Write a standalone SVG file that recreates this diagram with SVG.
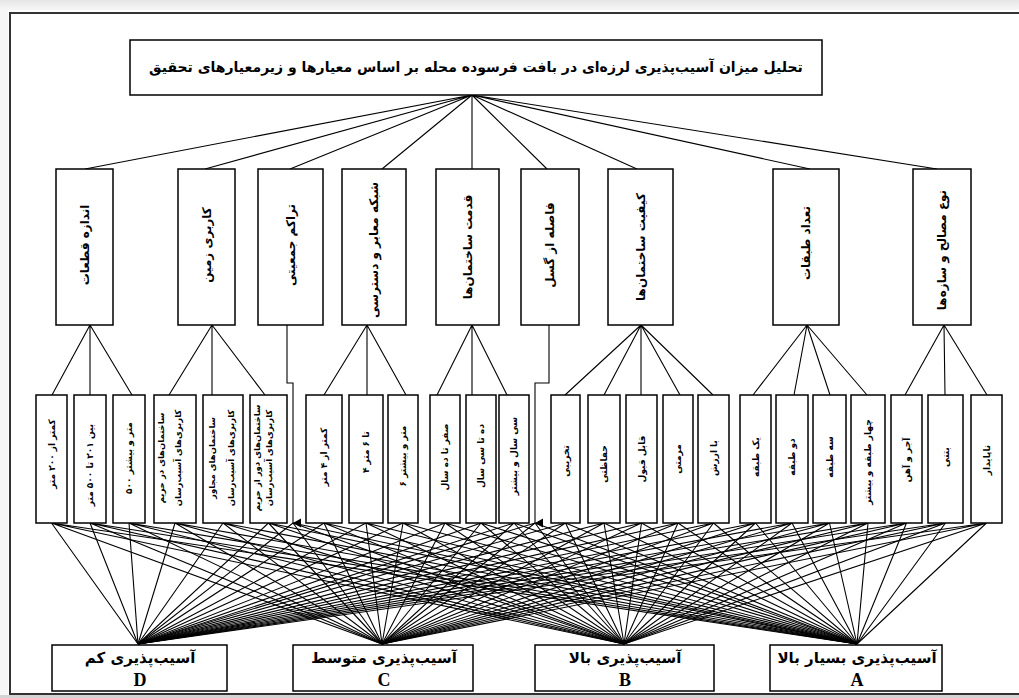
<svg xmlns="http://www.w3.org/2000/svg" width="1019" height="698" viewBox="0 0 1019 698">
<defs>
<style>
.bx{fill:#fff;stroke:#000;stroke-width:1.5}
.ln{stroke:#000;stroke-width:1.1;fill:none}
.t{font-family:"DejaVu Sans",sans-serif;fill:#000;text-anchor:middle;dominant-baseline:central;font-weight:bold}
.tt{font-size:14px}
.tc{font-size:12px}
.ts{font-size:9px}
.tx{font-size:8.5px}
.tb{font-size:15px}
.lt{font-family:"Liberation Serif",serif;font-weight:bold;font-size:18px;fill:#000;text-anchor:middle}
</style>
<marker id="ar" markerUnits="userSpaceOnUse" markerWidth="10" markerHeight="10" refX="5" refY="9" orient="auto-start-reverse" viewBox="0 0 10 10">
<path d="M0.5 1 L9.5 1 L5 9 Z" fill="#000"/>
</marker>
<linearGradient id="sh" x1="0" y1="0" x2="0" y2="1"><stop offset="0" stop-color="#e6e6e6"/><stop offset="1" stop-color="#f7f7f7"/></linearGradient>
</defs>
<rect x="0" y="0" width="1019" height="698" fill="#fff"/>
<rect x="0" y="0" width="1019" height="10" fill="url(#sh)"/>
<rect x="0" y="10" width="8" height="688" fill="#f6f6f6"/>
<rect x="0" y="695" width="1019" height="3" fill="#d4d4d4"/>
<rect x="10" y="13" width="1020" height="681" fill="#fff" stroke="#333" stroke-width="2"/>

<g id="connectors">
<path class="ln" d="M472 95 L85 169 M472 95 L205 169 M472 95 L290 169 M472 95 L382 169 M472 95 L472 169 M472 95 L547 169 M472 95 L637 169 M472 95 L810 169 M472 95 L937 169"/>
<path class="ln" d="M90 325 L52 395 M90 325 L90 395 M90 325 L132 395"/>
<path class="ln" d="M212 325 L169 395 M212 325 L212 395 M212 325 L265 395"/>
<path class="ln" d="M367 325 L324 395 M367 325 L367 395 M367 325 L406 395"/>
<path class="ln" d="M472 325 L437 395 M472 325 L472 395 M472 325 L507 395"/>
<path class="ln" d="M641 325 L565 395 M641 325 L604 395 M641 325 L641 395 M641 325 L680 395 M641 325 L713 395"/>
<path class="ln" d="M807 325 L753 395 M807 325 L794 395 M807 325 L830 395 M807 325 L867 395"/>
<path class="ln" d="M944 325 L905 395 M944 325 L945 395 M944 325 L987 395"/>
<path class="ln" d="M287 325 L287 383 L293 383 L293 523" marker-end="url(#ar)"/>
<path class="ln" d="M549 325 L549 383 L535 383 L535 523" marker-end="url(#ar)"/>
<path class="ln" d="M51.5 523 L138 644 M51.5 523 L382 644 M51.5 523 L624 644 M51.5 523 L857 644"/>
<path class="ln" d="M90 523 L138 644 M90 523 L382 644 M90 523 L624 644 M90 523 L857 644"/>
<path class="ln" d="M129 523 L138 644 M129 523 L382 644 M129 523 L624 644 M129 523 L857 644"/>
<path class="ln" d="M175 523 L138 644 M175 523 L382 644 M175 523 L624 644 M175 523 L857 644"/>
<path class="ln" d="M223 523 L138 644 M223 523 L382 644 M223 523 L624 644 M223 523 L857 644"/>
<path class="ln" d="M268.5 523 L138 644 M268.5 523 L382 644 M268.5 523 L624 644 M268.5 523 L857 644"/>
<path class="ln" d="M293 523 L138 644 M293 523 L382 644 M293 523 L624 644 M293 523 L857 644"/>
<path class="ln" d="M324 523 L138 644 M324 523 L382 644 M324 523 L624 644 M324 523 L857 644"/>
<path class="ln" d="M366 523 L138 644 M366 523 L382 644 M366 523 L624 644 M366 523 L857 644"/>
<path class="ln" d="M403 523 L138 644 M403 523 L382 644 M403 523 L624 644 M403 523 L857 644"/>
<path class="ln" d="M445 523 L138 644 M445 523 L382 644 M445 523 L624 644 M445 523 L857 644"/>
<path class="ln" d="M481 523 L138 644 M481 523 L382 644 M481 523 L624 644 M481 523 L857 644"/>
<path class="ln" d="M514 523 L138 644 M514 523 L382 644 M514 523 L624 644 M514 523 L857 644"/>
<path class="ln" d="M535 523 L138 644 M535 523 L382 644 M535 523 L624 644 M535 523 L857 644"/>
<path class="ln" d="M565.5 523 L138 644 M565.5 523 L382 644 M565.5 523 L624 644 M565.5 523 L857 644"/>
<path class="ln" d="M604 523 L138 644 M604 523 L382 644 M604 523 L624 644 M604 523 L857 644"/>
<path class="ln" d="M641.5 523 L138 644 M641.5 523 L382 644 M641.5 523 L624 644 M641.5 523 L857 644"/>
<path class="ln" d="M678 523 L138 644 M678 523 L382 644 M678 523 L624 644 M678 523 L857 644"/>
<path class="ln" d="M713.5 523 L138 644 M713.5 523 L382 644 M713.5 523 L624 644 M713.5 523 L857 644"/>
<path class="ln" d="M755.5 523 L138 644 M755.5 523 L382 644 M755.5 523 L624 644 M755.5 523 L857 644"/>
<path class="ln" d="M792 523 L138 644 M792 523 L382 644 M792 523 L624 644 M792 523 L857 644"/>
<path class="ln" d="M829.5 523 L138 644 M829.5 523 L382 644 M829.5 523 L624 644 M829.5 523 L857 644"/>
<path class="ln" d="M868 523 L138 644 M868 523 L382 644 M868 523 L624 644 M868 523 L857 644"/>
<path class="ln" d="M906.5 523 L138 644 M906.5 523 L382 644 M906.5 523 L624 644 M906.5 523 L857 644"/>
<path class="ln" d="M945.5 523 L138 644 M945.5 523 L382 644 M945.5 523 L624 644 M945.5 523 L857 644"/>
<path class="ln" d="M986.5 523 L138 644 M986.5 523 L382 644 M986.5 523 L624 644 M986.5 523 L857 644"/>
</g>

<g id="title">
<rect class="bx" x="130" y="40" width="692" height="55"/>
<text class="t tt" x="476" y="67">تحلیل میزان آسیب‌پذیری لرزه‌ای در بافت فرسوده محله بر اساس معیارها و زیرمعیارهای تحقیق</text>
</g>

<g id="c1"><rect class="bx" x="56" y="169" width="57" height="156"/><text class="t tc" x="84.5" y="245" transform="rotate(-90 84.5 245)">اندازه قطعات</text></g>
<g id="c2"><rect class="bx" x="178" y="169" width="57" height="156"/><text class="t tc" x="206.5" y="245" transform="rotate(-90 206.5 245)">کاربری زمین</text></g>
<g id="c3"><rect class="bx" x="258" y="169" width="65" height="156"/><text class="t tc" x="290.5" y="245" transform="rotate(-90 290.5 245)">تراکم جمعیتی</text></g>
<g id="c4"><rect class="bx" x="342" y="169" width="64" height="156"/><text class="t tc" x="374" y="250" transform="rotate(-90 374 250)">شبکه معابر و دسترسی</text></g>
<g id="c5"><rect class="bx" x="436" y="169" width="63" height="156"/><text class="t tc" x="467.5" y="247" transform="rotate(-90 467.5 247)">قدمت ساختمان‌ها</text></g>
<g id="c6"><rect class="bx" x="521" y="169" width="58" height="156"/><text class="t tc" x="550" y="245" transform="rotate(-90 550 245)">فاصله از گسل</text></g>
<g id="c7"><rect class="bx" x="608" y="169" width="65" height="156"/><text class="t tc" x="640.5" y="247" transform="rotate(-90 640.5 247)">کیفیت ساختمان‌ها</text></g>
<g id="c8"><rect class="bx" x="773" y="169" width="66" height="156"/><text class="t tc" x="806" y="243" transform="rotate(-90 806 243)">تعداد طبقات</text></g>
<g id="c9"><rect class="bx" x="913" y="169" width="58" height="156"/><text class="t tc" x="942" y="250" transform="rotate(-90 942 250)">نوع مصالح و سازه‌ها</text></g>

<g id="s1"><rect class="bx" x="36" y="395" width="31" height="128"/><text class="t ts" x="51.5" y="454" transform="rotate(-90 51.5 454)">کمتر از ۲۰۰ متر</text></g>
<g id="s2"><rect class="bx" x="74" y="395" width="32" height="128"/><text class="t ts" x="90" y="465" transform="rotate(-90 90 465)">بین ۲۰۱ تا ۵۰۰ متر</text></g>
<g id="s3"><rect class="bx" x="113" y="395" width="32" height="128"/><text class="t ts" x="129" y="458" transform="rotate(-90 129 458)">۵۰۰ متر و بیشتر</text></g>
<g id="s4"><rect class="bx" x="154" y="395" width="42" height="128"/><text class="t tx" x="161" y="458" transform="rotate(-90 161 458)">ساختمان‌های در حریم</text><text class="t tx" x="178" y="458" transform="rotate(-90 178 458)">کاربری‌های آسیب‌رسان</text></g>
<g id="s5"><rect class="bx" x="203" y="395" width="40" height="128"/><text class="t tx" x="212" y="458" transform="rotate(-90 212 458)">ساختمان‌های مجاور</text><text class="t tx" x="231" y="458" transform="rotate(-90 231 458)">کاربری‌های آسیب‌رسان</text></g>
<g id="s6"><rect class="bx" x="250" y="395" width="37" height="128"/><text class="t tx" x="257" y="458" transform="rotate(-90 257 458)">ساختمان‌های دور از حریم</text><text class="t tx" x="269" y="458" transform="rotate(-90 269 458)">کاربری‌های آسیب‌رسان</text></g>
<g id="s7"><rect class="bx" x="306" y="395" width="36" height="128"/><text class="t ts" x="324" y="457" transform="rotate(-90 324 457)">کمتر از ۴ متر</text></g>
<g id="s8"><rect class="bx" x="349" y="395" width="34" height="128"/><text class="t ts" x="366" y="452" transform="rotate(-90 366 452)">۴ تا ۶ متر</text></g>
<g id="s9"><rect class="bx" x="388" y="395" width="30" height="128"/><text class="t ts" x="403" y="456" transform="rotate(-90 403 456)">۶ متر و بیشتر</text></g>
<g id="s10"><rect class="bx" x="430" y="395" width="30" height="128"/><text class="t ts" x="445" y="457" transform="rotate(-90 445 457)">صفر تا ده سال</text></g>
<g id="s11"><rect class="bx" x="466" y="395" width="30" height="128"/><text class="t ts" x="481" y="456" transform="rotate(-90 481 456)">ده تا سی سال</text></g>
<g id="s12"><rect class="bx" x="499" y="395" width="30" height="128"/><text class="t ts" x="514" y="456" transform="rotate(-90 514 456)">سی سال و بیشتر</text></g>
<g id="s13"><rect class="bx" x="551" y="395" width="29" height="128"/><text class="t ts" x="565.5" y="461" transform="rotate(-90 565.5 461)">تخریبی</text></g>
<g id="s14"><rect class="bx" x="588" y="395" width="32" height="128"/><text class="t ts" x="604" y="464" transform="rotate(-90 604 464)">حفاظتی</text></g>
<g id="s15"><rect class="bx" x="626" y="395" width="31" height="128"/><text class="t ts" x="641.5" y="459" transform="rotate(-90 641.5 459)">قابل قبول</text></g>
<g id="s16"><rect class="bx" x="663" y="395" width="30" height="128"/><text class="t ts" x="678" y="459" transform="rotate(-90 678 459)">مرمتی</text></g>
<g id="s17"><rect class="bx" x="698" y="395" width="31" height="128"/><text class="t ts" x="713.5" y="458" transform="rotate(-90 713.5 458)">با ارزش</text></g>
<g id="s18"><rect class="bx" x="740" y="395" width="31" height="128"/><text class="t ts" x="755.5" y="457" transform="rotate(-90 755.5 457)">یک طبقه</text></g>
<g id="s19"><rect class="bx" x="776" y="395" width="32" height="128"/><text class="t ts" x="792" y="457" transform="rotate(-90 792 457)">دو طبقه</text></g>
<g id="s20"><rect class="bx" x="813" y="395" width="33" height="128"/><text class="t ts" x="829.5" y="457" transform="rotate(-90 829.5 457)">سه طبقه</text></g>
<g id="s21"><rect class="bx" x="851" y="395" width="34" height="128"/><text class="t ts" x="868" y="462" transform="rotate(-90 868 462)">چهار طبقه و بیشتر</text></g>
<g id="s22"><rect class="bx" x="891" y="395" width="31" height="128"/><text class="t ts" x="906.5" y="460" transform="rotate(-90 906.5 460)">آجر و آهن</text></g>
<g id="s23"><rect class="bx" x="928" y="395" width="35" height="128"/><text class="t ts" x="945.5" y="457" transform="rotate(-90 945.5 457)">بتنی</text></g>
<g id="s24"><rect class="bx" x="971" y="395" width="31" height="128"/><text class="t ts" x="986.5" y="460" transform="rotate(-90 986.5 460)">ناپایدار</text></g>

<g id="vD"><rect class="bx" x="52" y="645" width="175" height="46"/><text class="t tb" x="140" y="658">آسیب‌پذیری کم</text><text class="lt" x="140" y="686">D</text></g>
<g id="vC"><rect class="bx" x="293" y="645" width="180" height="46"/><text class="t tb" x="384" y="658">آسیب‌پذیری متوسط</text><text class="lt" x="384" y="686">C</text></g>
<g id="vB"><rect class="bx" x="535" y="645" width="179" height="46"/><text class="t tb" x="625" y="658">آسیب‌پذیری بالا</text><text class="lt" x="625" y="686">B</text></g>
<g id="vA"><rect class="bx" x="770" y="645" width="172" height="46"/><text class="t tb" x="857" y="658">آسیب‌پذیری بسیار بالا</text><text class="lt" x="857" y="686">A</text></g>
</svg>
